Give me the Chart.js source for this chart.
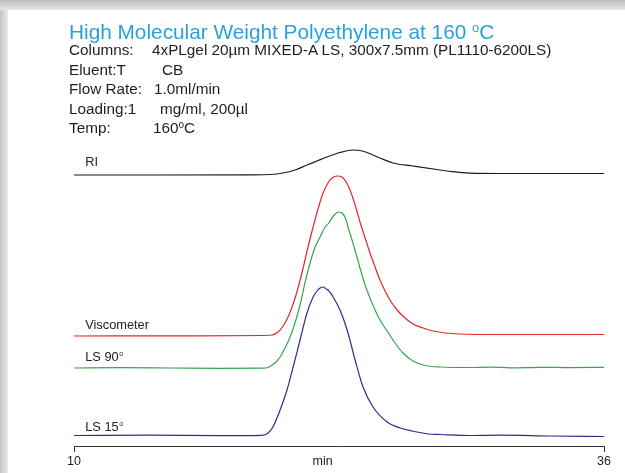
<!DOCTYPE html>
<html>
<head>
<meta charset="utf-8">
<script src="https://cdn.jsdelivr.net/npm/chart.js@4.4.1/dist/chart.umd.min.js"></script>
<style>
  html, body { margin:0; padding:0; width:625px; height:473px; overflow:hidden; font-family: "Liberation Sans", Arial, sans-serif; background:#fff; }
  #topband { position:absolute; z-index:5; left:0; top:0; width:625px; height:10px; background: linear-gradient(to bottom, #bdbdbd 0px, #d2d2d2 5px, #e6e6e6 10px); }
  #leftband { position:absolute; z-index:4; left:0; top:0; width:8px; height:473px; background: linear-gradient(to right, #c4c4c4 0px, #d8d8d8 4px, #ebebeb 8px); }
  #wrap { position:absolute; z-index:2; left:0; top:0; width:625px; height:473px; }
  .t { position:absolute; z-index:3; white-space:nowrap; color:#1e1e1e; font-size:15.3px; line-height:16px; }
  #title { position:absolute; z-index:3; left:69px; top:20px; color:#29a2dc; font-size:20.8px; line-height:24px; white-space:nowrap; }
  #title .deg { font-size:13px; position:relative; top:-7px; }
</style>
</head>
<body>
<div id="topband"></div>
<div id="leftband"></div>
<div id="title">High Molecular Weight Polyethylene at 160 <span class="deg">o</span>C</div>
<div class="t" style="left:69px;top:42px">Columns:</div>
<div class="t" style="left:152px;top:42px">4xPLgel 20µm MIXED-A LS, 300x7.5mm (PL1110-6200LS)</div>
<div class="t" style="left:69px;top:62px">Eluent:T</div>
<div class="t" style="left:162px;top:62px">CB</div>
<div class="t" style="left:69px;top:81px">Flow Rate:</div>
<div class="t" style="left:154px;top:81px">1.0ml/min</div>
<div class="t" style="left:69px;top:101px">Loading:1</div>
<div class="t" style="left:160px;top:101px">mg/ml, 200µl</div>
<div class="t" style="left:69px;top:120px">Temp:</div>
<div class="t" style="left:153px;top:120px">160<span style="font-size:10px;position:relative;top:-5px">o</span>C</div>
<div id="wrap"><canvas id="c" width="625" height="473"></canvas></div>
<script>
// ---- data (time in min, detector response in arbitrary units, stacked offsets as plotted) ----
const riTime = [10, 13.73, 18.64, 19.62, 20.26, 20.84, 21.43, 21.92, 22.41, 23.05, 23.69, 24.03, 24.38, 25.01, 25.65, 26.63, 27.96, 28.55, 29.43, 30.9, 36];
const riValues = [271, 271, 271.2, 271.5, 273, 276, 281, 285, 289, 293.5, 296, 295.5, 293.5, 288, 283, 280, 276, 274.3, 272.8, 272.5, 272.5];

const viscTime = [10, 16.18, 19.37, 19.72, 20.01, 20.26, 20.5, 20.75, 20.99, 21.24, 21.48, 21.73, 21.97, 22.22, 22.46, 22.66, 22.9, 23.15, 23.35, 23.54, 23.79, 24.03, 24.28, 24.52, 24.77, 25.01, 25.26, 25.5, 25.85, 26.24, 26.63, 27.12, 27.62, 28.2, 28.94, 30.9, 36];
const viscValues = [110, 110.2, 110.5, 111, 114, 120, 129, 142, 158, 178, 199, 219, 237, 253, 263, 268, 270, 269, 264, 256, 241, 224, 208, 193, 179, 166, 155, 146, 136, 128, 122, 118, 115, 113, 112, 111.5, 111.5];

const ls90Time = [10, 12.26, 14.71, 17.16, 19.22, 19.52, 19.72, 19.91, 20.11, 20.35, 20.6, 20.84, 21.09, 21.33, 21.58, 21.83, 22.07, 22.32, 22.46, 22.56, 22.76, 23.0, 23.2, 23.35, 23.44, 23.64, 23.84, 24.03, 24.28, 24.52, 24.77, 25.01, 25.36, 25.75, 26.14, 26.63, 27.22, 27.96, 29.43, 30.41, 31.4, 32.87, 34.35, 36];
const ls90Values = [78, 78.4, 78, 77.6, 77.8, 78.5, 81, 84, 89, 98, 109, 123, 141, 163, 183, 199, 209, 219, 222, 225, 231, 234, 232, 226, 219, 206, 192, 178, 161, 148, 136, 126, 115, 103, 93, 85, 80.5, 79, 78.5, 78.9, 78.2, 78.7, 78.4, 78.7];

const ls15Time = [10, 13.73, 17.16, 19.22, 19.52, 19.76, 20.11, 20.45, 20.75, 21.09, 21.43, 21.73, 21.92, 22.07, 22.22, 22.37, 22.46, 22.71, 23.05, 23.4, 23.79, 24.18, 24.67, 25.36, 26.0, 26.83, 27.37, 27.96, 29.43, 30.9, 33.36, 36];
const ls15Values = [10.5, 10.8, 10.3, 10.6, 13, 19, 36, 56, 79, 106, 133, 149, 155, 158, 159, 157, 156, 149, 136, 116, 86, 59, 39, 24, 18, 14, 12, 11.5, 10.5, 10.8, 10, 9.5];

const seriesNames = ['RI', 'Viscometer', 'LS 90', 'LS 15'];
const tickValues = [10, 22.2, 36];
const tickLabels = ['10', 'min', '36'];

function pts(t, v) { return t.map((x, i) => ({ x: x, y: v[i] })); }

const colors = ['#1b1b1b', '#e3262b', '#35a552', '#2a2f8e'];
const sets = [[riTime, riValues], [viscTime, viscValues], [ls90Time, ls90Values], [ls15Time, ls15Values]];

// label placement (x in min, y in response units) and whether to add a degree mark
const labelPlace = [
  { x: 10.55, y: 284, deg: false },
  { x: 10.55, y: 121, deg: false },
  { x: 10.55, y: 89, deg: true },
  { x: 10.55, y: 19, deg: true }
];

const labelPlugin = {
  id: 'seriesLabels',
  afterDatasetsDraw(chart) {
    const ctx = chart.ctx, xs = chart.scales.x, ys = chart.scales.y;
    ctx.save();
    ctx.fillStyle = '#222';
    ctx.textBaseline = 'middle';
    ctx.textAlign = 'left';
    seriesNames.forEach((name, i) => {
      const p = labelPlace[i];
      const px = xs.getPixelForValue(p.x), py = ys.getPixelForValue(p.y);
      ctx.font = '12.8px "Liberation Sans", Arial, sans-serif';
      ctx.fillText(name, px, py);
      if (p.deg) {
        const w = ctx.measureText(name).width;
        ctx.font = '7px "Liberation Sans", Arial, sans-serif';
        ctx.fillText('o', px + w + 0.5, py - 3);
      }
    });
    ctx.restore();
  }
};

new Chart(document.getElementById('c'), {
  type: 'line',
  data: {
    datasets: sets.map((s, i) => ({
      label: seriesNames[i],
      data: pts(s[0], s[1]),
      borderColor: colors[i],
      borderWidth: 1.2,
      pointRadius: 0,
      fill: false,
      cubicInterpolationMode: 'monotone'
    }))
  },
  options: {
    responsive: false,
    animation: false,
    layout: { padding: { left: 74, right: 21, top: 146, bottom: 0 } },
    plugins: { legend: { display: false }, tooltip: { enabled: false }, title: { display: false } },
    scales: {
      x: {
        type: 'linear', min: 10, max: 36,
        afterBuildTicks: (s) => { s.ticks = tickValues.map(v => ({ value: v })); },
        afterFit: (s) => { s.height = 27; },
        ticks: {
          autoSkip: false, maxRotation: 0, padding: 2, color: '#1e1e1e',
          font: { family: '"Liberation Sans", Arial, sans-serif', size: 12.5 },
          callback: (v) => { const i = tickValues.indexOf(v); return i >= 0 ? tickLabels[i] : ''; }
        },
        grid: {
          drawOnChartArea: false, drawTicks: true, tickLength: 6, lineWidth: 1,
          tickColor: (ctx) => (ctx.tick && ctx.tick.value === 22.2) ? 'rgba(0,0,0,0)' : '#333'
        },
        border: { display: true, color: '#333', width: 1 }
      },
      y: { display: false, min: 0, max: 300 }
    }
  },
  plugins: [labelPlugin]
});
</script>
</body>
</html>
